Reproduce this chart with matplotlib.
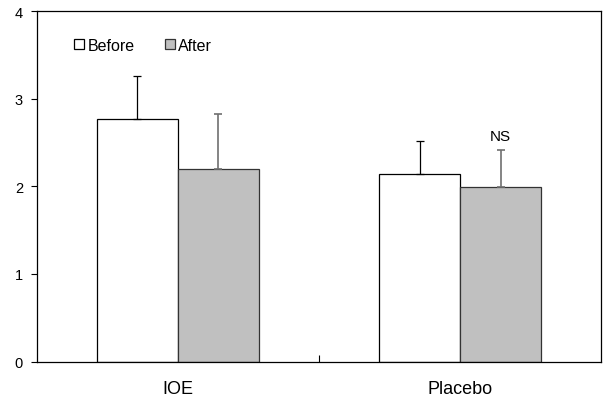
import numpy as np
import matplotlib.pyplot as plt

plt.rcParams['font.family'] = ['Liberation Sans', 'DejaVu Sans']

groups = ['IOE', 'Placebo']
before = [2.77, 2.14]
after = [2.20, 1.99]
before_err = [0.49, 0.38]
after_err = [0.62, 0.43]

fig = plt.figure(figsize=(6.03, 4.02), dpi=100)
ax = fig.add_axes([0.061, 0.098, 0.936, 0.872])

x = np.arange(len(groups))
w = 0.287
ax.bar(x - w/2, before, w, color='white', edgecolor='black', linewidth=0.9,
       yerr=[np.zeros(2), before_err], error_kw=dict(ecolor='black', elinewidth=0.9, capsize=3, capthick=0.9),
       label='Before')
ax.bar(x + w/2, after, w, color='#c0c0c0', edgecolor='#333333', linewidth=0.9,
       yerr=[np.zeros(2), after_err], error_kw=dict(ecolor='#707070', elinewidth=1.2, capsize=3, capthick=1.2),
       label='After')

ax.text(x[1] + w/2, after[1] + after_err[1] + 0.08, 'NS', ha='center', va='bottom', fontsize=11)

ax.set_xlim(-0.5, 1.5)
ax.set_ylim(0, 4)
ax.set_yticks([0, 1, 2, 3, 4])
ax.tick_params(axis='y', direction='out', length=4, labelsize=10.5, pad=6)
ax.set_xticks([0.5])
ax.set_xticklabels([''])
ax.tick_params(axis='x', direction='in', length=5)
for xi, g in zip(x, groups):
    ax.text(xi, -0.31, g, ha='center', va='center', fontsize=13)

for s in ax.spines.values():
    s.set_linewidth(0.9)

ax.legend(loc='upper left', bbox_to_anchor=(0.04, 0.965), ncol=2, frameon=False, fontsize=11.5,
          handlelength=0.65, handleheight=0.65, handletextpad=0.2, columnspacing=1.9)

fig.savefig('out.png', dpi=100)
